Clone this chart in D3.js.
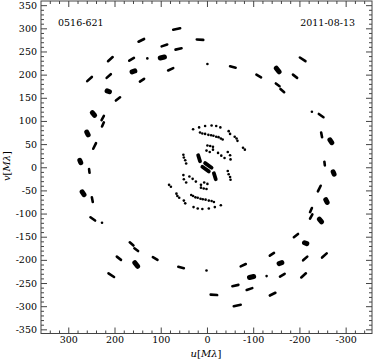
<!DOCTYPE html>
<html>
<head>
<meta charset="utf-8">
<script src="https://cdn.jsdelivr.net/npm/d3@7"></script>
<style>
body { margin: 0; background: #fff; }
.tick text { font-family: "DejaVu Serif", serif; font-size: 9.5px; fill: #000; }
.tick line { stroke: #444; }
</style>
</head>
<body>
<div id="uv"></div>
<script>
var svgWidth = 374;
var svgHeight = 359;

// plot box in pixels
var box = { left: 41, right: 372, top: 1, bottom: 333.5 };

// uv coverage, one half only (u, v in M lambda); every point also has its conjugate (-u, -v)
// short tracks: [u1, v1, u2, v2]
var outerTracks = [
  [259, 186, 249, 195], [214, 229, 204, 238], [217, 193, 208, 201], [197, 144, 188, 151],
  [168, 230, 158, 236], [145, 185, 136, 191], [148, 271, 136, 277], [98, 261, 86, 265],
  [84, 209, 73, 214], [73, 297, 58, 300], [68, 254, 55, 257], [228, 102, 223, 111],
  [227, 88, 223, 97], [246, 40, 240, 52], [255, -4, 254, -12], [22, 276, 8, 275],
  [-50, 218, -62, 215], [-107, 200, -117, 194], [-149, 181, -157, 175], [-159, 169, -167, 162],
  [-186, 200, -195, 193], [-201, 237, -213, 229], [-242, 115, -252, 108], [-247, 75, -249, 65]
];
// overlapping tracks (thicker blobs)
var outerBlobs = [
  [216, 165, 211, 163], [162, 206, 156, 208], [101, 236, 92, 238], [-150, 214, -156, 206],
  [-266, 59, -270, 53], [275, 15, 273, 10], [248, 118, 243, 112], [260, 76, 257, 70]
];
var outerDots = [[129, 235], [-1, 223], [-227, 120]];

var innerDots = [
  // inner ring, outer edge
  [30, 82], [17, 86], [4, 89], [-10, 90], [-20, 89], [-29, 86],
  [-47, 78], [-50, 72], [-60, 66], [-64, 62], [-66, 57], [-78, 42], [-82, 38],
  // inner ring, second row
  [15, 75], [10, 73], [4, 72], [-3, 70], [-9, 69], [-14, 68], [-20, 66], [-25, 65], [-30, 62], [-34, 60],
  // middle ring
  [51, 27], [50, 21], [47, 15], [45, 8],
  [-1, 47], [-7, 46], [-13, 44], [1, 36], [-6, 33], [-13, 38],
  [-24, 31], [-31, 25], [-38, 20], [-45, 33], [-50, 26], [-51, 17]
];
var innerBlobs = [[19, 26, 15, 13], [4, 9, -10, -1]];

var xTicks = [300, 200, 100, 0, -100, -200, -300];
var yTicks = [350, 300, 250, 200, 150, 100, 50, 0, -50, -100, -150, -200, -250, -300, -350];

var sourceName = "0516-621";
var obsDate = "2011-08-13";

var svg = d3.select("#uv")
  .append("svg")
  .attr("width", svgWidth)
  .attr("height", svgHeight);

var xScale = d3.scaleLinear().domain([359, -357]).range([box.left, box.right]);
var yScale = d3.scaleLinear().domain([359, -359]).range([box.top, box.bottom]);

// minor ticks
var xMinor = d3.range(-340, 341, 20).filter(d => d % 100 != 0);
var yMinor = d3.range(-350, 351, 10).filter(d => d % 50 != 0);

svg.append("g").attr("transform", `translate(0, ${box.bottom})`)
  .call(d3.axisBottom(xScale).tickValues(xMinor).tickSize(-3).tickFormat(""));
svg.append("g").attr("transform", `translate(0, ${box.top})`)
  .call(d3.axisTop(xScale).tickValues(xMinor).tickSize(-3).tickFormat(""));
svg.append("g").attr("transform", `translate(${box.left}, 0)`)
  .call(d3.axisLeft(yScale).tickValues(yMinor).tickSize(-3).tickFormat(""));
svg.append("g").attr("transform", `translate(${box.right}, 0)`)
  .call(d3.axisRight(yScale).tickValues(yMinor).tickSize(-3).tickFormat(""));

// major ticks
svg.append("g").attr("transform", `translate(0, ${box.bottom})`)
  .call(d3.axisBottom(xScale).tickValues(xTicks).tickSize(-6).tickPadding(3).tickFormat(d => String(d)));
svg.append("g").attr("transform", `translate(0, ${box.top})`)
  .call(d3.axisTop(xScale).tickValues(xTicks).tickSize(-6).tickFormat(""));
svg.append("g").attr("transform", `translate(${box.left}, 0)`)
  .call(d3.axisLeft(yScale).tickValues(yTicks).tickSize(-6).tickPadding(4).tickFormat(d => String(d)));
svg.append("g").attr("transform", `translate(${box.right}, 0)`)
  .call(d3.axisRight(yScale).tickValues(yTicks).tickSize(-6).tickFormat(""));

svg.selectAll(".domain").remove();

svg.append("rect")
  .attr("x", box.left).attr("y", box.top)
  .attr("width", box.right - box.left).attr("height", box.bottom - box.top)
  .attr("fill", "none").attr("stroke", "#444").attr("stroke-width", 1);

// add conjugate points
function withConj(arr) {
  var out = [];
  arr.forEach(function(d) {
    out.push(d);
    out.push(d.map(v => -v));
  });
  return out;
}

var marks = svg.append("g");

function drawSegs(data, w) {
  marks.selectAll(null)
    .data(withConj(data))
    .enter()
    .append("line")
    .attr("x1", d => xScale(d[0]))
    .attr("y1", d => yScale(d[1]))
    .attr("x2", d => xScale(d[2]))
    .attr("y2", d => yScale(d[3]))
    .attr("stroke", "#000")
    .attr("stroke-width", w)
    .attr("stroke-linecap", "round");
}

drawSegs(outerTracks, 2.6);
drawSegs(outerBlobs, 5);
drawSegs(innerBlobs, 3.8);

marks.selectAll(null)
  .data(withConj(outerDots.concat(innerDots)))
  .enter()
  .append("circle")
  .attr("cx", d => xScale(d[0]))
  .attr("cy", d => yScale(d[1]))
  .attr("r", 1.3)
  .attr("fill", "#000");

// labels
svg.append("text")
  .attr("x", 58).attr("y", 26)
  .attr("font-family", "DejaVu Serif, serif").attr("font-size", "9.5px").attr("fill", "#000")
  .text(sourceName);

svg.append("text")
  .attr("x", 355).attr("y", 26)
  .attr("text-anchor", "end")
  .attr("font-family", "DejaVu Serif, serif").attr("font-size", "9.5px").attr("fill", "#000")
  .text(obsDate);

var xTitle = svg.append("text")
  .attr("x", 206).attr("y", 357)
  .attr("text-anchor", "middle")
  .attr("font-family", "DejaVu Serif, serif").attr("font-size", "10px").attr("fill", "#000");
xTitle.append("tspan").attr("font-style", "italic").text("u");
xTitle.append("tspan").text("[");
xTitle.append("tspan").attr("font-style", "italic").text("M");
xTitle.append("tspan").attr("font-style", "italic").text("λ");
xTitle.append("tspan").text("]");

var yTitle = svg.append("text")
  .attr("transform", "translate(10, 166) rotate(-90)")
  .attr("text-anchor", "middle")
  .attr("font-family", "DejaVu Serif, serif").attr("font-size", "10px").attr("fill", "#000");
yTitle.append("tspan").attr("font-style", "italic").text("v");
yTitle.append("tspan").text("[");
yTitle.append("tspan").attr("font-style", "italic").text("M");
yTitle.append("tspan").attr("font-style", "italic").text("λ");
yTitle.append("tspan").text("]");
</script>
</body>
</html>
